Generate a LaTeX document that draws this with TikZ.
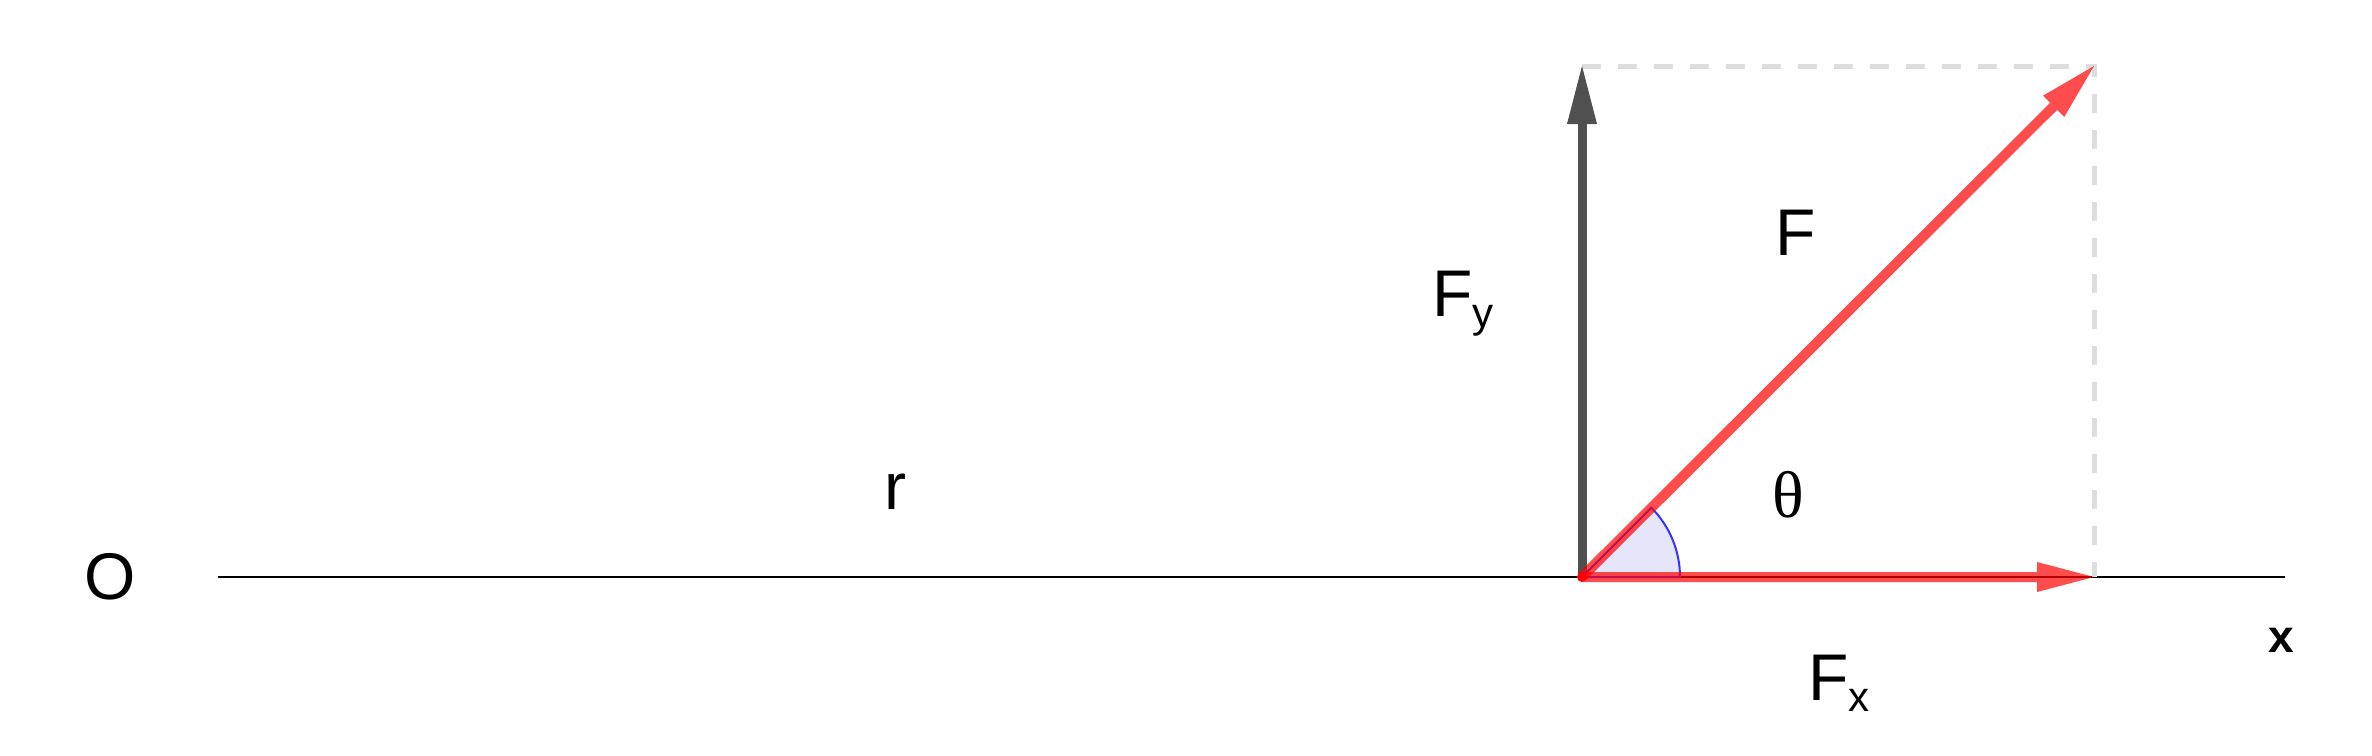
\documentclass[tikz,border=0pt]{standalone}
\usepackage{fontspec}
\setmainfont{Liberation Sans}
\newfontfamily\thetafont{Liberation Serif}
\usetikzlibrary{arrows.meta}
\definecolor{axisgray}{HTML}{505050}
\definecolor{dashgray}{HTML}{DDDDDD}
\definecolor{wedgefill}{HTML}{E6E6FA}
\definecolor{wedgeline}{HTML}{3333FF}
\tikzset{
  lbl/.style={inner sep=0pt, font=\fontsize{66}{78}\selectfont},
  axisline/.style={draw=black, line width=2.5pt},
  guide/.style={draw=dashgray, line width=5pt, dash pattern=on 19pt off 17pt},
  comp/.style={draw=axisgray, line width=9pt, -{Triangle[length=58pt,width=30pt,line width=0pt]}},
  force/.style={draw=red, line width=10pt, -{Triangle[length=57pt,width=30pt,line width=0pt]}},
}
\newcommand{\subsc}[1]{\raisebox{-11pt}{\fontsize{42}{50}\selectfont #1}}
\begin{document}
\begin{tikzpicture}[x=1pt,y=-1pt]
\useasboundingbox (0,0) rectangle (2372,755);
\coordinate (orig) at (1582,577);
\coordinate (axA) at (218,577);
\coordinate (axB) at (2285,577);
\coordinate (fy) at (1582,66);
\coordinate (ftip) at (2094,66);
\coordinate (fx) at (2094,577);
% axis
\draw[axisline] (axA) -- (axB);
% dashed guides
\draw[guide] (fy) -- (ftip) -- (fx);
% vertical component
\draw[comp] (orig) -- (fy);
% angle wedge
\filldraw[fill=wedgefill, draw=wedgeline, line width=2pt] (orig) -- ++(98,0) arc[start angle=0, end angle=-45, radius=98] -- cycle;
% forces
\begin{scope}[transparency group, opacity=0.7]
\draw[force] (orig) -- (fx);
\end{scope}
\begin{scope}[transparency group, opacity=0.7]
\draw[force] (orig) -- (ftip);
\end{scope}
\fill[red] (orig) circle[radius=5];
% labels
\node[lbl] (O) at (110,577) {O};
\node[lbl, anchor=base west] (r) at (884,509) {r};
\node[lbl, anchor=center, font=\thetafont\fontsize{66}{78}\selectfont] (theta) at (1788,495) {θ};
\node[lbl, anchor=base west] (Flab) at (1775,255) {F};
\node[lbl, anchor=base west] (Fylab) at (1432,316) {F\subsc{y}};
\node[lbl, anchor=base west] (Fxlab) at (1808,700) {F\subsc{x}};
\node[inner sep=0pt, font=\bfseries\fontsize{46}{55}\selectfont] (xlab) at (2281,640) {x};
\end{tikzpicture}
\end{document}
